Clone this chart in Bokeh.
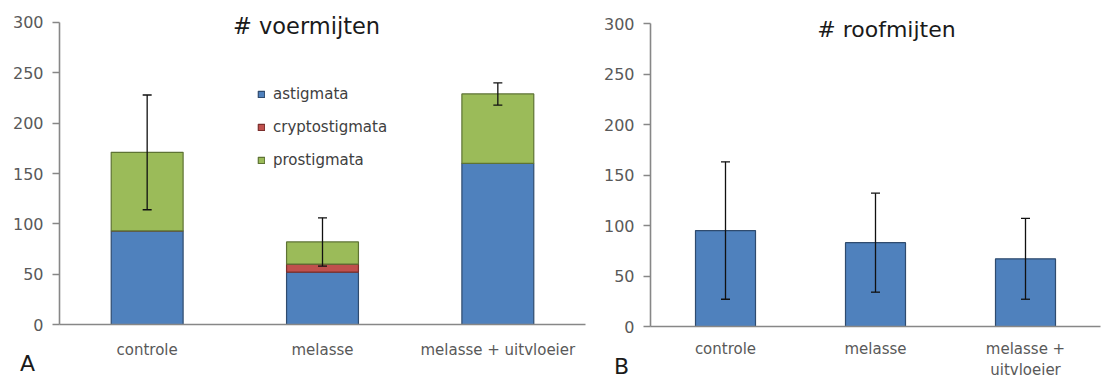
from bokeh.plotting import figure
from bokeh.models import (ColumnDataSource, Range1d, Whisker, TeeHead, Label,
                          FixedTicker, LinearAxis)
from bokeh.layouts import row
from bokeh.embed import file_html
from bokeh.resources import INLINE

# ---------------- data ----------------
categories = ["controle", "melasse", "melasse + uitvloeier"]
left_tick_labels = ["controle", "melasse", "melasse + uitvloeier"]
right_tick_line1 = ["controle", "melasse", "melasse +"]
right_tick_line2 = ["", "", "uitvloeier"]

astigmata = [93, 52, 160]
cryptostigmata = [0, 8, 0]
prostigmata = [78, 22, 69]
voer_error = [57, 24, 11]

roofmijten = [95, 83, 67]
roof_error = [68, 49, 40]

y_ticks = [0, 50, 100, 150, 200, 250, 300]
series_names = ["astigmata", "cryptostigmata", "prostigmata"]

# ---------------- styles ----------------
FONT = "DejaVu Sans"
fills = ["#4F81BD", "#C0504D", "#9BBB59"]
edges = ["#2F4B6E", "#7A2E2C", "#5E7334"]
AXIS = "#878787"
TXT = "#595959"

xpos = [i + 0.5 for i in range(len(categories))]


def make_fig(width, x_start, x_end, y_start, y_end):
    p = figure(width=width, height=380,
               x_range=Range1d(x_start, x_end), y_range=Range1d(y_start, y_end),
               min_border=0, min_border_left=0, min_border_right=0,
               min_border_top=0, min_border_bottom=0,
               output_backend="svg", toolbar_location=None)
    p.outline_line_color = None
    p.xgrid.visible = False
    p.ygrid.visible = False
    ya = p.yaxis[0]
    ya.fixed_location = 0
    ya.bounds = (0, 300)
    ya.ticker = FixedTicker(ticks=y_ticks)
    ya.minor_tick_line_color = None
    ya.major_tick_in = 0
    ya.major_tick_out = 7
    ya.major_label_standoff = 9
    xa = p.xaxis[0]
    xa.fixed_location = 0
    xa.bounds = (0, 3)
    xa.ticker = FixedTicker(ticks=xpos)
    xa.minor_tick_line_color = None
    xa.major_tick_line_color = None
    xa.major_tick_in = 0
    xa.major_tick_out = 0
    for ax in (xa, ya):
        ax.axis_line_color = AXIS
        ax.axis_line_width = 1.6
        ax.major_tick_line_width = 1.3
        ax.major_label_text_font = FONT
        ax.major_label_text_font_size = "16px"
        ax.major_label_text_color = TXT
    ya.major_tick_line_color = AXIS
    xa.major_label_text_font_size = "15px"
    return p


def whisker(src):
    return Whisker(base="x", upper="upper", lower="lower", source=src,
                   line_color="#111111", line_width=1.3, level="overlay",
                   upper_head=TeeHead(size=9, line_color="#111111", line_width=1.3),
                   lower_head=TeeHead(size=9, line_color="#111111", line_width=1.3))


# ---------------- left chart ----------------
# frame spans the whole figure: 0 at y=324px, 300 at y=22px; x unit 0 at 59px, 175.33px/unit
p1 = make_fig(599, -59 / 175.33, 3 + 14 / 175.33, -56 / 1.00667, 300 + 22 / 1.00667)
p1.xaxis[0].major_label_standoff = 16
p1.xaxis[0].major_label_overrides = {x: t for x, t in zip(xpos, left_tick_labels)}

src_l = ColumnDataSource(dict(x=xpos, astigmata=astigmata,
                              cryptostigmata=cryptostigmata, prostigmata=prostigmata))
totals = [a + c + pr for a, c, pr in zip(astigmata, cryptostigmata, prostigmata)]
err_l = ColumnDataSource(dict(x=xpos,
                              upper=[t + e for t, e in zip(totals, voer_error)],
                              lower=[t - e for t, e in zip(totals, voer_error)]))
p1.vbar_stack(series_names, x="x", width=0.41, source=src_l,
              fill_color=fills, line_color=edges, line_width=1.2,
              legend_label=series_names)
p1.add_layout(whisker(err_l))

leg = p1.legend[0]
leg.location = (257, 210)
leg.border_line_color = None
leg.background_fill_alpha = 0
leg.padding = 0
leg.margin = 0
leg.spacing = 13
leg.glyph_width = 8
leg.glyph_height = 8
leg.label_height = 20
leg.label_standoff = 8
leg.label_text_font = FONT
leg.label_text_font_size = "15px"
leg.label_text_color = "#404040"

p1.add_layout(Label(x=1.409, y=297, text="# voermijten", text_align="center",
                    text_baseline="alphabetic", text_font=FONT,
                    text_font_size="22.5px", text_color="#1a1a1a"))
p1.add_layout(Label(x=-0.183, y=-38.8, text="A", text_align="center",
                    text_baseline="alphabetic", text_font=FONT,
                    text_font_size="22px", text_color="#1a1a1a"))

# ---------------- right chart ----------------
# 0 at y=326px, 300 at y=23px; x unit 0 at 650-599=51px, 150px/unit
p2 = make_fig(507, -51 / 150, 3 + 6 / 150, -54 / 1.01, 300 + 23 / 1.01)
p2.xaxis[0].major_label_standoff = 13
p2.xaxis[0].major_label_overrides = {x: t for x, t in zip(xpos, right_tick_line1)}

xa2 = LinearAxis(fixed_location=0, ticker=FixedTicker(ticks=xpos),
                 major_label_overrides={x: t for x, t in zip(xpos, right_tick_line2)},
                 axis_line_color=None, major_tick_line_color=None,
                 minor_tick_line_color=None, major_tick_in=0, major_tick_out=0,
                 major_label_standoff=34, major_label_text_font=FONT,
                 major_label_text_font_size="15px", major_label_text_color=TXT)
p2.add_layout(xa2, "below")

src_r = ColumnDataSource(dict(x=xpos, val=roofmijten,
                              upper=[v + e for v, e in zip(roofmijten, roof_error)],
                              lower=[v - e for v, e in zip(roofmijten, roof_error)]))
p2.vbar(x="x", top="val", width=0.4, source=src_r,
        fill_color=fills[0], line_color=edges[0], line_width=1.2)
p2.add_layout(whisker(src_r))

p2.add_layout(Label(x=1.573, y=294, text="# roofmijten", text_align="center",
                    text_baseline="alphabetic", text_font=FONT,
                    text_font_size="22px", text_color="#1a1a1a"))
p2.add_layout(Label(x=-0.193, y=-39.6, text="B", text_align="center",
                    text_baseline="alphabetic", text_font=FONT,
                    text_font_size="22px", text_color="#1a1a1a"))

layout = row(p1, p2, spacing=0)
open("out.html", "w").write(file_html(layout, INLINE))
